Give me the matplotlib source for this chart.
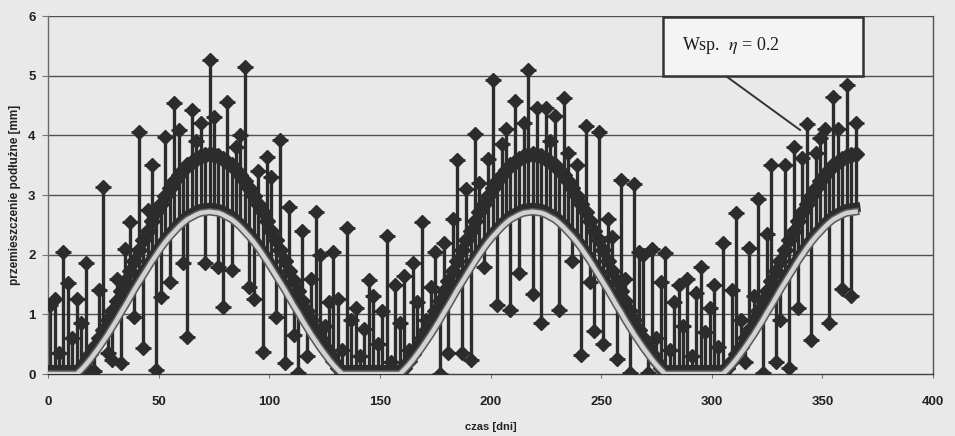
import matplotlib
matplotlib.use("Agg")
import matplotlib.pyplot as plt
import matplotlib.patheffects as pe
from matplotlib.patches import Rectangle
import numpy as np

# ---- data (every 2nd day) ----
days = np.arange(1, 366, 2)

# measured / simulated displacement (scattered diamonds)
measured = [
    1.16, 1.25, 0.35, 2.04, 1.53, 0.60, 1.25, 0.85, 1.86, 0.05,
    0.05, 1.40, 3.14, 0.35, 0.24, 1.60, 0.18, 2.10, 2.55, 0.95,
    4.05, 0.44, 2.75, 3.50, 0.07, 1.29, 3.97, 1.55, 4.54, 4.09,
    1.86, 0.62, 4.42, 3.90, 4.20, 1.86, 5.26, 4.30, 1.80, 1.12,
    4.56, 1.74, 3.80, 4.00, 5.15, 1.46, 1.26, 3.40, 0.37, 3.64,
    3.30, 0.95, 3.93, 0.18, 2.80, 0.66, 0.02, 2.40, 0.30, 1.60,
    2.72, 1.99, 0.80, 1.20, 2.04, 1.25, 0.40, 2.44, 0.90, 1.10,
    0.30, 0.75, 1.57, 1.30, 0.50, 1.05, 2.31, 0.20, 1.50, 0.85,
    1.64, 0.40, 1.86, 1.20, 2.55, 0.90, 1.45, 2.04, 0.00, 2.20,
    0.35, 2.60, 3.59, 0.35, 3.10, 0.24, 4.03, 3.20, 1.80, 3.60,
    4.93, 1.15, 3.85, 4.10, 1.07, 4.57, 1.70, 4.20, 5.10, 1.34,
    4.45, 0.85, 4.45, 3.90, 4.32, 1.07, 4.63, 3.70, 1.90, 3.50,
    0.32, 4.16, 1.55, 0.72, 4.06, 0.50, 2.60, 2.30, 0.25, 3.25,
    1.60, 0.02, 3.18, 2.05, 2.00, 0.02, 2.10, 0.60, 1.55, 2.03,
    0.40, 1.20, 1.50, 0.80, 1.60, 0.30, 1.35, 1.80, 0.70, 1.10,
    1.50, 0.45, 2.20, 0.10, 1.40, 2.70, 0.90, 0.20, 2.12, 1.30,
    2.93, 0.02, 2.35, 3.50, 0.20, 0.90, 3.50, 0.10, 3.80, 1.10,
    3.62, 4.19, 0.57, 3.70, 3.95, 4.10, 0.85, 4.65, 4.10, 1.43,
    4.84, 1.30, 4.20,
]

# upper smooth curve (dark diamonds)
upper = (
    [0.00] * 6
    + [0.00, 0.10, 0.21, 0.33, 0.46, 0.60, 0.74, 0.90, 1.06, 1.22,
       1.39, 1.56, 1.73, 1.90, 2.07, 2.24, 2.40, 2.56, 2.71, 2.85,
       2.99, 3.11, 3.23, 3.33, 3.42, 3.50, 3.56, 3.61, 3.65, 3.67,
       3.68, 3.67, 3.65, 3.61, 3.56, 3.50, 3.42, 3.33, 3.23, 3.11,
       2.99, 2.85, 2.71, 2.56, 2.40, 2.24, 2.07, 1.90, 1.73, 1.56,
       1.39, 1.22, 1.06, 0.90, 0.74, 0.60, 0.46, 0.33, 0.21, 0.10,
       0.00]
    + [0.00] * 12
    + [0.00, 0.10, 0.21, 0.33, 0.46, 0.60, 0.74, 0.90, 1.06, 1.22,
       1.39, 1.56, 1.73, 1.90, 2.07, 2.24, 2.40, 2.56, 2.71, 2.85,
       2.99, 3.11, 3.23, 3.33, 3.42, 3.50, 3.56, 3.61, 3.65, 3.67,
       3.68, 3.67, 3.65, 3.61, 3.56, 3.50, 3.42, 3.33, 3.23, 3.11,
       2.99, 2.85, 2.71, 2.56, 2.40, 2.24, 2.07, 1.90, 1.73, 1.56,
       1.39, 1.22, 1.06, 0.90, 0.74, 0.60, 0.46, 0.33, 0.21, 0.10,
       0.00]
    + [0.00] * 12
    + [0.00, 0.10, 0.21, 0.33, 0.46, 0.60, 0.74, 0.90, 1.06, 1.22,
       1.39, 1.56, 1.73, 1.90, 2.07, 2.24, 2.40, 2.56, 2.71, 2.85,
       2.99, 3.11, 3.23, 3.33, 3.42, 3.50, 3.56, 3.61, 3.65, 3.67,
       3.68]
)

# lower smooth curve (light grey line)
lower = (
    [0.00] * 6
    + [0.00, 0.07, 0.15, 0.24, 0.34, 0.44, 0.55, 0.66, 0.78, 0.90,
       1.03, 1.15, 1.28, 1.41, 1.53, 1.65, 1.77, 1.89, 2.00, 2.11,
       2.21, 2.30, 2.38, 2.46, 2.53, 2.59, 2.63, 2.67, 2.70, 2.71,
       2.72, 2.71, 2.70, 2.67, 2.63, 2.59, 2.53, 2.46, 2.38, 2.30,
       2.21, 2.11, 2.00, 1.89, 1.77, 1.65, 1.53, 1.41, 1.28, 1.15,
       1.03, 0.90, 0.78, 0.66, 0.55, 0.44, 0.34, 0.24, 0.15, 0.07,
       0.00]
    + [0.00] * 12
    + [0.00, 0.07, 0.15, 0.24, 0.34, 0.44, 0.55, 0.66, 0.78, 0.90,
       1.03, 1.15, 1.28, 1.41, 1.53, 1.65, 1.77, 1.89, 2.00, 2.11,
       2.21, 2.30, 2.38, 2.46, 2.53, 2.59, 2.63, 2.67, 2.70, 2.71,
       2.72, 2.71, 2.70, 2.67, 2.63, 2.59, 2.53, 2.46, 2.38, 2.30,
       2.21, 2.11, 2.00, 1.89, 1.77, 1.65, 1.53, 1.41, 1.28, 1.15,
       1.03, 0.90, 0.78, 0.66, 0.55, 0.44, 0.34, 0.24, 0.15, 0.07,
       0.00]
    + [0.00] * 12
    + [0.00, 0.07, 0.15, 0.24, 0.34, 0.44, 0.55, 0.66, 0.78, 0.90,
       1.03, 1.15, 1.28, 1.41, 1.53, 1.65, 1.77, 1.89, 2.00, 2.11,
       2.21, 2.30, 2.38, 2.46, 2.53, 2.59, 2.63, 2.67, 2.70, 2.71,
       2.72]
)

x_ticks = [0, 50, 100, 150, 200, 250, 300, 350, 400]
y_ticks = [0, 1, 2, 3, 4, 5, 6]
label_text = "Wsp.  $\\eta$ = 0.2"

measured = np.array(measured)
upper = np.array(upper)
lower = np.array(lower)

############# PLOTTING ##########################################

plt.rcParams["font.family"] = ["Liberation Sans", "DejaVu Sans"]
plt.rcParams["mathtext.fontset"] = "stix"

bg = "#e9e9e9"
ink = "#2c2c2c"

fig = plt.figure(figsize=(9.55, 4.36), dpi=100, facecolor=bg)
ax = fig.add_axes([48 / 955, 1 - 374 / 436, 885 / 955, 358 / 436], facecolor=bg)

ax.set_xlim(0, 400)
ax.set_ylim(0, 6)

# horizontal grid
for yv in y_ticks[1:]:
    ax.axhline(yv, color="#505050", lw=1.0, zorder=1)

# high-low lines: span of all three series on each day
lo = np.minimum(np.minimum(measured, lower), upper)
hi = np.maximum(np.maximum(measured, lower), upper)
ax.vlines(days, lo, hi, color=ink, lw=2.4, zorder=2)

# upper smooth curve as dense dark diamonds
ax.plot(days, upper, color=ink, lw=5.5, marker="D", ms=8.5, zorder=3)

# scattered measured diamonds
ax.plot(days, measured, ls="none", color=ink, marker="D", ms=7.5, zorder=3)
ax.plot(days, measured, ls="none", color=ink, marker="_", ms=11, mew=2, zorder=3)

# lower curve: light line with a dark rim just above it
ax.plot(
    days,
    lower,
    color="#d2d2d2",
    lw=3.2,
    zorder=4,
    path_effects=[
        pe.Stroke(linewidth=7, foreground=ink, offset=(0, 3)),
        pe.Stroke(linewidth=5.5, foreground="#5a5a5a"),
        pe.Normal(),
    ],
)

# spines / ticks
ax.spines["top"].set_visible(False)
ax.spines["left"].set_color("#6a6a6a")
ax.spines["bottom"].set_color("#404040")
ax.spines["right"].set_color("#505050")
for s in ["left", "bottom", "right"]:
    ax.spines[s].set_linewidth(1.0)

ax.set_xticks(x_ticks)
ax.set_yticks(y_ticks)
ax.tick_params(axis="x", length=3, width=0.8, color="#777777", pad=13,
               labelsize=9.5, labelcolor="#222222")
ax.tick_params(axis="y", length=4, width=0.8, color="#777777", pad=5,
               labelsize=9.5, labelcolor="#222222")
for lab in ax.get_xticklabels() + ax.get_yticklabels():
    lab.set_fontweight("bold")

ax.set_xlabel("czas [dni]", fontsize=8, fontweight="bold", color="#222222",
              labelpad=10)
ax.set_ylabel("przemieszczenie podłużne [mm]", fontsize=8.5,
              fontweight="bold", color="#222222")
ax.yaxis.set_label_coords(-0.031, 0.5)

# annotation box
ax.add_patch(Rectangle((0.6949, 0.8324), 0.226, 0.1648, transform=ax.transAxes,
                       facecolor="#f4f4f4", edgecolor="#333333", lw=1.8,
                       zorder=6, clip_on=False))
ax.text(0.7164, 0.918, label_text, transform=ax.transAxes, fontsize=13,
        family=["Liberation Serif", "DejaVu Serif"], color="#1a1a1a",
        va="center", ha="left", zorder=7)
ax.plot([306.9, 339.9], [4.98, 4.09], color="#333333", lw=1.4, zorder=6)

fig.savefig("out.png", dpi=100, facecolor=bg)
